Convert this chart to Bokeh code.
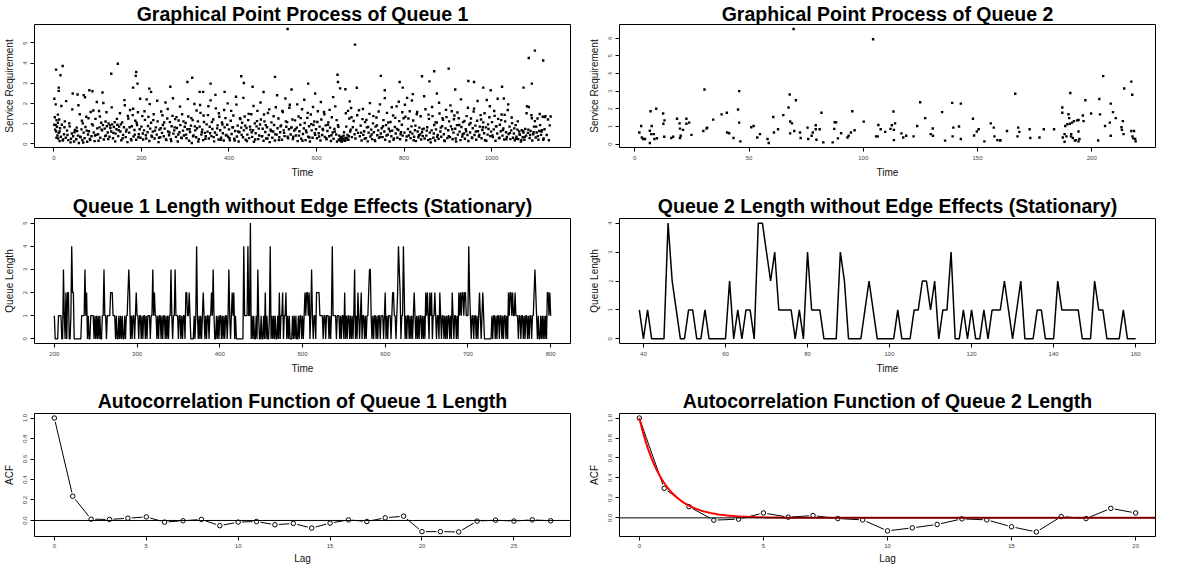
import numpy as np
from bokeh.plotting import figure
from bokeh.layouts import column, row
from bokeh.models import Range1d, FixedTicker, PrintfTickFormatter, Span
from bokeh.embed import file_html
from bokeh.resources import INLINE

FONT = "Liberation Sans"

# ---------------- Queue 1 point process (time, service requirement) ----------------
q1_times = [
    2, 3, 4, 5, 6, 7, 8, 9, 10, 11, 12, 13, 14, 16, 18, 21, 23, 25, 27, 30, 33, 36, 38, 41, 44, 46, 48,
    51, 53, 55, 57, 59, 61, 63, 65, 66, 68, 70, 72, 74, 76, 78, 80, 82, 84, 86, 89, 91, 93, 95, 97, 99,
    101, 103, 104, 106, 108, 110, 112, 114, 116, 118, 119, 121, 123, 125, 127, 129, 131, 133, 135, 137, 139, 141, 143, 145, 147, 149,
    151, 152, 154, 156, 158, 160, 162, 164, 166, 168, 170, 172, 174, 176, 178, 180, 182, 184, 186, 188, 190, 192, 194, 196, 198,
    200, 202, 204, 206, 208, 210, 212, 214, 216, 218, 220, 222, 224, 226, 228, 230, 233, 235, 237, 239, 241, 243, 245, 247, 249,
    251, 253, 255, 257, 259, 261, 263, 265, 267, 269, 271, 273, 275, 277, 279, 281, 283, 285, 287, 289, 291, 293, 295, 297, 299,
    301, 303, 305, 307, 309, 311, 313, 315, 317, 319, 321, 323, 325, 327, 329, 331, 333, 335, 337, 339, 341, 343, 345, 347, 349,
    351, 352, 354, 356, 358, 360, 362, 364, 366, 368, 370, 372, 374, 376, 378, 380, 382, 384, 386, 388, 390, 392, 394, 396, 398,
    400, 402, 404, 406, 408, 410, 412, 414, 416, 418, 420, 422, 424, 426, 428, 430, 432, 434, 436, 438, 440, 442, 444, 446, 448,
    451, 453, 455, 457, 459, 461, 463, 465, 467, 469, 471, 473, 475, 477, 479, 481, 483, 485, 487, 489, 491, 493, 495, 497, 499,
    501, 503, 505, 507, 509, 511, 513, 515, 517, 519, 521, 523, 525, 527, 529, 531, 533, 535, 537, 539, 541, 543, 545, 547, 549,
    551, 553, 555, 557, 559, 561, 563, 565, 567, 569, 571, 573, 575, 577, 579, 581, 583, 585, 587, 589, 591, 593, 595, 597, 599,
    601, 603, 605, 607, 609, 611, 613, 615, 617, 619, 621, 623, 625, 627, 629, 631, 633, 635, 637, 639, 641, 643, 645, 647, 649,
    651, 652, 654, 656, 657, 659, 661, 663, 665, 667, 669, 671, 673, 675, 677, 679, 681, 683, 685, 687, 689, 691, 693, 695, 697, 699,
    701, 703, 705, 707, 709, 711, 713, 715, 717, 719, 721, 723, 725, 727, 729, 731, 733, 735, 737, 739, 741, 743, 745, 747, 749,
    751, 753, 755, 757, 759, 761, 763, 765, 767, 769, 771, 773, 775, 777, 779, 781, 783, 785, 787, 789, 791, 793, 795, 797, 799,
    801, 803, 805, 807, 809, 811, 813, 815, 817, 819, 821, 823, 825, 827, 829, 831, 833, 835, 837, 839, 841, 843, 845, 847, 849,
    851, 853, 855, 857, 859, 861, 863, 865, 867, 869, 871, 873, 875, 877, 879, 881, 883, 885, 887, 889, 891, 893, 895, 897, 899,
    901, 903, 905, 907, 909, 911, 913, 915, 917, 919, 921, 923, 925, 927, 929, 931, 933, 935, 937, 939, 941, 943, 945, 947, 949,
    951, 953, 955, 957, 959, 961, 963, 965, 967, 969, 971, 973, 975, 977, 979, 981, 983, 985, 987, 989, 991, 993, 995, 997, 999,
    1001, 1003, 1005, 1007, 1009, 1011, 1013, 1015, 1017, 1019, 1021, 1023, 1025, 1027, 1029, 1031, 1033, 1035, 1037, 1039, 1041, 1043, 1045, 1047, 1049,
    1051, 1053, 1055, 1057, 1059, 1061, 1063, 1065, 1067, 1069, 1071, 1073, 1075, 1077, 1079, 1081, 1083, 1085, 1087, 1089, 1091, 1093, 1095, 1097, 1099,
    1101, 1103, 1105, 1107, 1109, 1111, 1113, 1115, 1117, 1119, 1121, 1123,
]
q1_service = [
    1.32, 0.71, 0.93, 0.62, 1.18, 0.85, 0.42, 1.05, 0.27, 0.55, 1.21, 0.14, 0.78, 0.36, 0.95, 0.22, 0.48, 1.12, 0.31, 0.66, 0.19, 0.87, 0.08, 0.52, 0.38, 0.12, 0.69,
    0.23, 0.64, 0.41, 0.05, 1.47, 0.33, 0.72, 0.18, 1.02, 0.56, 0.29, 0.84, 1.35, 0.11, 0.47, 0.63, 0.25, 1.58, 0.38, 0.92, 0.57, 0.14, 1.24, 0.45, 0.77,
    0.48, 1.63, 0.82, 0.31, 1.05, 0.67, 0.93, 0.22, 0.76, 1.11, 0.42, 0.88, 0.57, 1.01, 0.36, 0.79, 0.62, 0.97, 0.28, 0.84, 1.08, 0.51, 0.73, 0.95, 0.39, 0.86,
    1.52, 0.62, 0.18, 1.07, 0.45, 0.83, 1.92, 0.34, 0.71, 0.09, 1.26, 0.56, 1.68, 0.24, 0.88, 1.43, 0.37, 0.69, 1.15, 0.21, 0.94, 1.57, 0.48, 0.73, 0.31,
    0.86, 1.38, 0.22, 0.67, 1.19, 0.43, 2.21, 0.58, 1.34, 0.15, 0.76, 1.05, 0.36, 0.61, 1.47, 0.27, 0.82, 0.46, 1.12, 0.09, 0.71, 0.33, 1.61, 0.55, 0.94,
    0.38, 0.76, 2.05, 0.19, 1.26, 0.62, 0.43, 1.08, 0.24, 0.88, 1.39, 0.51, 0.67, 1.23, 0.35, 0.79, 0.12, 1.16, 0.58, 0.93, 0.31, 1.47, 0.66, 0.42, 0.85,
    1.04, 0.28, 0.73, 1.36, 0.16, 0.59, 0.91, 0.05, 1.18, 0.42, 1.98, 0.67, 0.33, 0.78, 1.12, 0.24, 0.86, 1.54, 0.46, 0.71, 0.19, 1.09, 0.55, 0.38, 0.97,
    0.61, 1.43, 0.27, 0.85, 2.16, 0.39, 0.74, 1.21, 0.13, 0.57, 1.76, 0.45, 0.92, 0.22, 1.35, 0.68, 0.31, 1.06, 0.53, 0.17, 0.82, 1.28, 0.44, 0.95, 0.36,
    0.72, 0.18, 1.15, 0.49, 0.83, 1.41, 0.26, 0.64, 2.34, 0.37, 0.91, 0.12, 0.58, 1.23, 0.81, 1.05, 0.33, 0.67, 1.36, 0.21, 0.79, 0.46, 1.18, 0.29, 0.86,
    1.47, 0.35, 0.68, 0.11, 1.02, 0.53, 0.87, 1.64, 0.24, 0.42, 0.96, 1.21, 0.38, 0.75, 0.16, 1.12, 0.59, 0.27, 0.83, 1.53, 0.44, 0.09, 0.71, 1.07, 0.31,
    0.62, 0.94, 0.17, 1.82, 0.46, 0.78, 1.26, 0.33, 0.58, 0.92, 0.21, 1.58, 0.67, 0.39, 2.25, 0.85, 1.08, 0.28, 0.73, 1.94, 0.47, 0.82, 1.21, 0.36, 0.66,
    1.17, 0.42, 0.81, 0.14, 1.36, 0.63, 0.95, 0.26, 1.72, 0.49, 0.77, 1.04, 0.19, 0.58, 1.29, 0.36, 0.88, 0.12, 1.46, 0.67, 0.31, 0.94, 1.11, 0.45, 0.73,
    0.28, 1.62, 0.53, 0.86, 0.17, 1.21, 0.44, 0.69, 1.58, 0.35, 0.92, 0.23, 0.64, 1.07, 0.38, 0.81, 0.15, 1.32, 0.57, 0.26, 0.74, 1.86, 0.47, 0.12, 0.93,
    0.22, 0.41, 0.18, 0.27, 0.13, 0.36, 0.24, 0.58, 0.16, 1.52, 0.31, 0.45, 0.21, 1.26, 0.62, 1.78, 0.34, 0.83, 1.14, 0.48, 0.27, 0.69, 1.42, 0.55, 1.67, 0.38,
    0.91, 0.17, 1.23, 0.45, 0.63, 1.08, 0.29, 0.82, 0.13, 0.56, 1.49, 0.37, 0.71, 0.24, 1.02, 0.58, 0.19, 0.86, 1.31, 0.43, 0.67, 0.31, 1.96, 0.52, 0.78,
    0.34, 1.18, 0.62, 0.21, 0.93, 1.54, 0.46, 0.75, 0.12, 1.09, 0.38, 0.66, 1.41, 0.27, 0.84, 0.52, 1.86, 0.31, 0.69, 1.13, 0.23, 0.58, 0.95, 0.41, 1.27,
    0.56, 1.35, 0.18, 2.28, 0.74, 0.42, 1.62, 0.29, 0.87, 0.51, 1.16, 0.36, 0.68, 0.14, 1.47, 0.62, 0.33, 0.81, 0.47, 0.22, 0.58, 0.39, 0.76, 0.27, 1.72,
    0.41, 0.83, 0.19, 1.24, 0.56, 0.08, 0.67, 1.38, 0.31, 0.94, 0.17, 0.72, 1.06, 0.45, 0.25, 1.51, 0.62, 0.36, 0.88, 1.19, 0.48, 0.14, 0.77, 1.33, 0.29,
    0.68, 1.12, 0.34, 0.87, 1.62, 0.23, 0.56, 1.41, 0.75, 0.12, 0.93, 0.46, 1.27, 0.61, 0.19, 0.84, 0.37, 1.08, 0.52, 0.26, 0.73, 1.38, 0.44, 0.15, 0.96,
    0.57, 1.26, 0.32, 0.78, 1.61, 0.44, 0.91, 0.21, 1.15, 0.63, 0.37, 0.86, 1.43, 0.28, 0.69, 1.07, 0.53, 0.18, 0.82, 2.18, 0.46, 0.74, 1.32, 0.39, 0.61,
    1.08, 0.34, 0.72, 1.39, 0.16, 0.87, 0.52, 1.24, 0.28, 0.95, 0.63, 1.46, 0.41, 0.77, 0.22, 1.12, 0.58, 0.35, 1.68, 0.49, 0.86, 0.24, 0.67, 1.03, 0.31,
    0.52, 0.18, 0.93, 0.36, 0.71, 0.24, 0.62, 0.45, 0.12, 0.68, 0.33, 0.57, 0.21, 0.74, 0.41, 1.87, 0.55, 1.83, 0.29, 0.64, 1.42, 0.17, 0.48, 0.86, 1.13,
    0.32, 0.57, 1.26, 0.21, 0.64, 0.93, 0.45, 0.68, 1.35, 0.27, 0.73, 1.38,
]
q1_more_times = [
    1, 6, 9, 13, 17, 20, 24, 28, 31, 35, 39, 42, 47,
    52, 56, 60, 64, 67, 71, 75, 79, 83, 87, 90, 94, 98,
    102, 105, 109, 113, 117, 120, 124, 128, 132, 136, 140, 144, 148,
    153, 157, 161, 165, 169, 173, 177, 181, 185, 189, 193, 197,
    203, 207, 211, 215, 219, 223, 227, 231, 236, 240, 244, 248,
    252, 256, 260, 264, 268, 272, 276, 280, 284, 288, 292, 296,
    302, 306, 310, 314, 318, 322, 326, 330, 334, 338, 342, 346,
    353, 357, 361, 365, 369, 373, 377, 381, 385, 389, 393, 397,
    401, 405, 409, 413, 417, 421, 425, 429, 433, 437, 441, 445, 449,
    452, 456, 460, 464, 468, 472, 476, 480, 484, 488, 492, 496,
    502, 506, 510, 514, 518, 522, 526, 530, 534, 538, 542, 546,
    552, 556, 560, 564, 568, 572, 576, 580, 584, 588, 592, 596,
    602, 606, 610, 614, 618, 622, 626, 630, 634, 638, 642, 646, 650,
    653, 655, 658, 660, 662, 664, 666, 668, 670, 672, 674, 676, 678, 680,
    702, 706, 710, 714, 718, 722, 726, 730, 734, 738, 742, 746,
    752, 756, 760, 764, 768, 772, 776, 780, 784, 788, 792, 796,
    802, 806, 810, 814, 818, 822, 826, 830, 834, 838, 842, 846,
    852, 856, 860, 864, 868, 872, 876, 880, 884, 888, 892, 896,
    902, 906, 910, 914, 918, 922, 926, 930, 934, 938, 942, 946,
    952, 956, 960, 964, 968, 972, 976, 980, 984, 988, 992, 996,
    1002, 1006, 1010, 1014, 1018, 1022, 1026, 1030, 1034, 1038, 1042, 1046,
    1052, 1056, 1060, 1064, 1068, 1072, 1076, 1080, 1084, 1088, 1092, 1096,
    1102, 1106, 1110, 1114, 1118, 1122, 1126, 1129, 1131, 1133, 1135,
]
q1_more_service = [
    0.95, 0.31, 1.45, 0.62, 1.88, 0.17, 0.83, 2.12, 0.44, 1.02, 0.26, 1.71, 0.58,
    0.81, 1.92, 0.36, 1.15, 0.07, 2.31, 0.66, 1.27, 0.19, 0.98, 1.66, 0.42, 2.08,
    0.16, 1.36, 0.71, 2.03, 0.39, 1.57, 0.24, 0.92, 1.81, 0.55, 0.13, 1.24, 0.68,
    0.97, 0.28, 2.17, 0.61, 1.39, 0.83, 0.18, 1.74, 0.46, 1.05, 0.33, 2.24,
    0.52, 1.62, 0.27, 0.89, 1.97, 0.41, 1.18, 0.66, 2.14, 0.31, 0.78, 1.42,
    1.06, 0.23, 1.73, 0.57, 0.14, 2.26, 0.82, 1.33, 0.47, 1.85, 0.29, 1.12,
    0.46, 2.22, 0.73, 1.28, 0.38, 0.87, 1.66, 0.12, 1.93, 0.58, 1.41, 0.26,
    1.87, 0.53, 1.09, 0.34, 2.43, 0.77, 1.52, 0.21, 0.96, 1.68, 0.43, 2.01,
    0.29, 1.64, 0.83, 0.17, 1.95, 0.62, 1.27, 0.45, 2.28, 0.91, 0.15, 1.49, 0.71,
    0.58, 1.88, 0.22, 1.13, 0.76, 2.05, 0.39, 1.46, 0.93, 0.27, 1.71, 0.64,
    1.37, 0.48, 2.41, 0.19, 0.88, 1.64, 0.55, 1.12, 0.36, 1.79, 0.81, 0.24,
    0.73, 1.96, 0.41, 1.28, 0.16, 2.19, 0.67, 1.54, 0.32, 0.98, 1.83, 0.53,
    1.09, 0.37, 2.08, 0.74, 1.47, 0.28, 0.95, 1.69, 0.43, 2.32, 0.61, 1.18, 0.85,
    0.19, 0.33, 0.12, 0.25, 0.41, 0.17, 0.29, 0.86, 0.22, 1.64, 0.38, 2.11, 0.71, 1.32,
    0.56, 1.73, 0.26, 1.19, 0.84, 2.02, 0.47, 1.38, 0.14, 0.92, 1.61, 0.35,
    0.88, 2.27, 0.42, 1.06, 0.63, 1.82, 0.21, 1.29, 0.74, 2.09, 0.48, 1.57,
    1.94, 0.37, 1.26, 0.59, 2.15, 0.18, 0.91, 1.58, 0.43, 1.37, 0.72, 2.36,
    0.66, 1.45, 0.24, 1.83, 0.52, 1.07, 0.36, 2.04, 0.81, 1.28, 0.17, 1.69,
    0.38, 1.91, 0.73, 1.22, 0.27, 1.56, 0.94, 2.21, 0.48, 1.14, 0.63, 1.79,
    1.04, 0.29, 1.75, 0.62, 2.13, 0.44, 1.21, 0.83, 1.52, 0.16, 0.97, 1.87,
    0.42, 1.63, 0.87, 2.24, 0.31, 1.18, 0.69, 1.44, 0.23, 1.96, 0.55, 1.31,
    0.77, 0.26, 1.12, 0.48, 0.19, 0.63, 0.35, 1.52, 0.71, 0.44, 1.27, 0.58,
    0.86, 0.39, 1.48, 0.62, 0.21, 1.33, 0.44, 1.21, 0.18, 0.92, 1.36,
]
q1_high_times = [5, 15, 20, 11, 11, 1, 4, 43, 54, 68, 81, 88, 111, 131, 146, 181, 188, 187, 191, 218,
                 222, 266, 305, 316, 333, 341, 358, 390, 428, 434, 454, 479, 505, 534, 543, 581, 597, 648, 649, 654,
                 666, 688, 692, 747, 756, 790, 797, 820, 841, 858, 869, 875, 902, 917, 947, 960, 981, 998, 1024, 1028,
                 1073, 1085, 1092, 1099, 1118]
q1_high_service = [3.68, 3.40, 3.86, 2.79, 2.63, 2.24, 1.96, 2.50, 2.45, 2.42, 2.66, 2.61, 2.55, 3.48, 3.97, 2.79, 3.56, 3.37, 2.99, 2.74,
                   2.58, 2.83, 3.07, 3.28, 2.58, 2.58, 2.99, 2.58, 3.35, 3.02, 2.83, 2.57, 3.32, 5.69, 2.70, 2.99, 2.50, 3.43, 3.07, 2.75,
                   2.71, 4.92, 2.78, 3.37, 2.66, 3.07, 2.79, 2.47, 3.35, 3.10, 3.60, 2.50, 3.73, 2.70, 3.12, 3.07, 2.79, 2.66, 2.83, 2.25,
                   2.79, 4.26, 2.99, 4.62, 4.13]

# ---------------- Queue 2 point process ----------------
q2_times = [
    2.0, 2.8, 3.1, 3.6, 4.5, 6.6, 6.6, 6.9, 7.4, 7.2, 8.3, 8.6, 9.4, 9.7, 12.4, 12.5, 13.0, 12.9, 16.0, 16.8,
    18.5, 19.6, 19.8, 19.8, 20.1, 21.1, 22.6, 22.6, 23.8, 24.8, 30.0, 30.5, 31.4, 31.7, 34.3, 38.0, 40.3, 40.4, 41.3, 43.2,
    45.2, 45.7, 45.7, 46.2, 51.0, 52.0, 53.6, 54.8, 58.1, 58.6, 60.6, 60.9, 62.7, 65.0, 67.3, 67.8, 68.0, 68.0, 68.8, 69.5,
    69.8, 70.5, 72.3, 72.6, 75.6, 75.9, 77.4, 77.9, 79.2, 79.2, 79.5, 80.9, 81.7, 82.5, 86.6, 87.3, 87.5, 88.1, 88.9, 90.3,
    93.1, 93.6, 94.6, 95.2, 96.2, 100.2, 104.3, 105.6, 106.3, 106.6, 107.6, 109.6, 111.9, 112.5, 113.2, 113.4, 113.4, 113.9, 116.7, 117.5,
    118.8, 122.0, 123.6, 124.9, 127.1, 129.5, 130.4, 130.5, 134.5, 135.8, 138.9, 139.1, 139.4, 141.9, 142.7, 142.7, 148.0, 148.5, 149.7, 150.5,
    153.0, 155.8, 157.1, 157.4, 158.7, 159.9, 160.0, 162.9, 166.5, 167.5, 167.8, 168.3, 172.8, 173.1, 177.1, 179.0, 183.5, 187.1, 187.1, 187.3,
    188.1, 188.1, 188.4, 188.9, 189.8, 189.3, 190.1, 190.4, 190.6, 190.9, 191.0, 191.4, 191.7, 192.2, 192.6, 193.0, 193.6, 194.2, 194.2, 194.2,
    194.6, 196.1, 196.4, 197.2, 199.7, 202.8, 203.3, 203.6, 205.0, 205.8, 207.9, 208.3, 208.3, 209.3, 210.5, 213.0, 213.2, 213.6, 213.9, 214.2,
    217.3, 217.7, 217.3, 217.8, 218.2, 218.5, 219.0, 219.2,
]
q2_service = [
    0.65, 1.02, 0.37, 0.28, 0.28, 0.06, 0.75, 1.86, 1.02, 0.56, 0.56, 0.28, 2.00, 0.33, 1.73, 1.15, 1.34, 0.41, 0.34, 0.41,
    1.43, 1.17, 0.87, 0.34, 0.47, 0.80, 1.43, 1.15, 1.21, 0.52, 0.74, 3.09, 0.88, 0.93, 1.38, 1.68, 1.77, 0.65, 0.61, 0.34,
    1.96, 3.00, 1.21, 0.15, 0.95, 1.02, 0.37, 0.56, 0.28, 0.06, 1.53, 0.65, 0.84, 1.64, 2.07, 2.81, 1.28, 0.60, 1.17, 6.52,
    0.74, 2.48, 0.65, 0.34, 0.93, 0.28, 0.47, 0.65, 1.06, 0.84, 0.24, 0.84, 1.77, 0.09, 0.09, 0.86, 1.23, 1.23, 0.32, 0.61,
    0.37, 0.47, 0.65, 1.86, 0.78, 1.27, 5.94, 0.43, 0.43, 1.08, 0.84, 0.69, 0.86, 1.06, 1.84, 0.22, 0.80, 1.17, 0.60, 0.37,
    0.47, 0.43, 1.02, 2.37, 1.47, 0.56, 0.88, 0.47, 1.81, 0.19, 2.33, 0.43, 0.93, 0.99, 2.29, 0.28, 1.43, 0.48, 0.71, 0.84,
    0.15, 1.17, 0.93, 0.43, 0.22, 0.19, 0.22, 0.74, 2.85, 0.43, 0.93, 0.69, 0.84, 0.34, 0.37, 0.84, 0.84, 2.07, 1.77, 0.37,
    0.56, 0.13, 1.02, 0.43, 1.69, 1.12, 1.47, 1.15, 2.89, 0.43, 0.56, 1.21, 0.34, 1.30, 0.19, 0.22, 1.34, 0.15, 0.71, 1.36,
    0.28, 1.62, 1.30, 2.48, 1.73, 0.20, 2.55, 1.68, 3.85, 1.02, 1.21, 0.47, 2.29, 1.81, 1.47, 0.95, 0.80, 1.30, 0.56, 3.15,
    3.54, 2.79, 0.74, 0.43, 0.32, 0.74, 0.28, 0.15,
]

# ---------------- Queue lengths (one value per unit of time) ----------------
q1_len_start, q1_len_end = 200, 800
q1_length = [
    1, 0, 0, 0, 0, 1, 1, 1, 1, 0,  0, 3, 1, 0, 2, 0, 2, 2, 0, 0,
    1, 4, 2, 2, 0, 0, 0, 0, 0, 0,  0, 0, 0, 1, 1, 1, 1, 3, 1, 2,
    0, 1, 0, 0, 1, 1, 1, 1, 0, 1,  0, 1, 0, 1, 0, 1, 0, 0, 1, 1,
    3, 1, 1, 0, 1, 1, 1, 1, 2, 2,  2, 1, 1, 1, 0, 1, 0, 0, 1, 0,
    1, 0, 1, 0, 0, 1, 0, 1, 1, 2,  3, 2, 0, 1, 0, 1, 1, 0, 1, 2,
    1, 1, 0, 1, 1, 0, 1, 0, 1, 1,  0, 1, 0, 1, 1, 1, 0, 1, 1, 3,
    1, 2, 1, 1, 0, 1, 0, 1, 1, 0,  1, 0, 1, 1, 0, 1, 0, 1, 0, 1,
    1, 3, 1, 0, 1, 1, 3, 1, 1, 1,  0, 1, 1, 0, 1, 0, 1, 1, 0, 2,
    2, 1, 1, 2, 1, 0, 0, 0, 0, 1,  0, 1, 4, 1, 0, 1, 0, 1, 0, 1,
    2, 1, 0, 1, 0, 1, 1, 0, 1, 1,  2, 1, 3, 1, 0, 0, 1, 0, 1, 0,
    1, 1, 0, 1, 0, 1, 0, 1, 1, 0,  1, 3, 1, 0, 1, 2, 1, 2, 0, 1,
    0, 0, 0, 0, 0, 0, 0, 0, 0, 4,  1, 1, 1, 1, 4, 1, 1, 5, 0, 1,
    0, 1, 0, 0, 1, 0, 3, 1, 0, 0,  1, 0, 0, 1, 0, 2, 0, 1, 0, 0,
    1, 4, 0, 1, 0, 1, 0, 1, 0, 0,  1, 0, 2, 0, 1, 1, 2, 0, 1, 1,
    2, 0, 1, 0, 1, 0, 0, 0, 1, 0,  1, 0, 1, 0, 0, 1, 0, 1, 1, 0,
    1, 0, 1, 2, 1, 2, 2, 1, 2, 0,  1, 3, 1, 0, 1, 1, 0, 2, 2, 2,
    2, 1, 1, 1, 1, 0, 1, 1, 0, 1,  1, 1, 0, 1, 0, 1, 4, 1, 1, 1,
    1, 0, 1, 1, 1, 0, 1, 0, 1, 1,  0, 2, 0, 1, 0, 1, 1, 0, 1, 0,
    1, 0, 1, 3, 0, 1, 0, 2, 1, 0,  1, 2, 0, 1, 1, 0, 1, 0, 1, 1,
    2, 3, 3, 1, 0, 1, 0, 1, 1, 0,  1, 0, 1, 1, 0, 1, 1, 1, 0, 1,
    2, 0, 1, 0, 1, 1, 1, 0, 1, 2,  2, 1, 1, 0, 1, 2, 4, 3, 2, 0,
    1, 1, 4, 2, 0, 1, 0, 1, 1, 0,  1, 0, 1, 0, 1, 2, 1, 0, 1, 0,
    1, 0, 1, 1, 0, 1, 0, 1, 0, 2,  1, 2, 1, 0, 2, 1, 2, 0, 1, 1,
    2, 1, 0, 1, 1, 0, 2, 1, 0, 1,  1, 0, 1, 0, 1, 0, 1, 1, 0, 1,
    0, 2, 1, 0, 1, 1, 0, 1, 0, 2,  1, 2, 1, 2, 2, 1, 2, 2, 1, 1,
    1, 4, 2, 1, 0, 1, 1, 0, 1, 1,  0, 1, 0, 1, 2, 1, 0, 1, 2, 1,
    0, 0, 0, 0, 0, 0, 0, 0, 0, 1,  0, 1, 1, 0, 1, 0, 1, 1, 0, 1,
    1, 0, 1, 0, 1, 1, 0, 1, 0, 2,  1, 2, 2, 1, 2, 1, 1, 2, 1, 1,
    1, 0, 1, 1, 0, 1, 1, 0, 1, 0,  1, 1, 0, 1, 0, 1, 1, 0, 1, 1,
    2, 3, 2, 1, 0, 1, 0, 0, 1, 0,  1, 0, 1, 0, 1, 0, 2, 2, 1, 2,
    1,
]
q2_len_start, q2_len_end = 39, 160
q2_length = [
    1, 0, 1, 0, 0, 0, 0, 4, 2, 1,
    0, 0, 1, 1, 0, 0, 1, 0, 0, 0,
    0, 0, 2, 0, 1, 0, 1, 1, 0, 4,
    4, 3, 2, 3, 1, 1, 1, 1, 0, 1,
    0, 3, 1, 1, 1, 0, 0, 0, 0, 3,
    2, 0, 0, 0, 0, 1, 2, 1, 0, 0,
    0, 0, 0, 1, 0, 0, 0, 1, 1, 2,
    2, 1, 2, 0, 1, 1, 3, 0, 0, 1,
    0, 1, 0, 0, 1, 0, 1, 1, 1, 2,
    1, 0, 1, 2, 0, 0, 0, 1, 1, 0,
    0, 0, 2, 1, 1, 1, 1, 1, 0, 0,
    0, 2, 1, 1, 0, 0, 0, 0, 1, 0,
    0, 0,
]

# ---------------- Autocorrelation functions ----------------
q1_acf = [1.0, 0.237, 0.013, 0.010, 0.022, 0.035, -0.016, -0.003, 0.010, -0.051,
          -0.016, -0.010, -0.042, -0.029, -0.074, -0.026, 0.006, -0.010, 0.026, 0.042,
          -0.109, -0.109, -0.112, -0.006, 0.003, -0.006, 0.006, -0.003]
q2_acf = [1.0, 0.296, 0.112, -0.023, -0.013, 0.049, 0.007, 0.023, -0.007, -0.020,
          -0.130, -0.100, -0.066, -0.010, -0.020, -0.089, -0.141, 0.013, -0.007, 0.095, 0.049]
q2_fit_rate = 1.05   # fitted exponential decay exp(-rate * lag)

# tick positions
q1_pp_xticks = [0, 200, 400, 600, 800, 1000]
q1_pp_yticks = [0, 1, 2, 3, 4, 5]
q2_pp_xticks = [0, 50, 100, 150, 200]
q2_pp_yticks = [0, 1, 2, 3, 4, 5, 6]
q1_len_xticks = [200, 300, 400, 500, 600, 700, 800]
q1_len_yticks = [0, 1, 2, 3, 4, 5]
q2_len_xticks = [40, 60, 80, 100, 120, 140, 160]
q2_len_yticks = [0, 1, 2, 3, 4]
q1_acf_xticks = [0, 5, 10, 15, 20, 25]
q2_acf_xticks = [0, 5, 10, 15, 20]
acf_yticks = [0.0, 0.2, 0.4, 0.6, 0.8, 1.0]


def r_range(vals):
    lo, hi = float(min(vals)), float(max(vals))
    e = 0.04 * (hi - lo)
    return Range1d(lo - e, hi + e)


def make_fig(w, h, xr, yr, title, xlabel, ylabel, xticks, yticks, bl, bt, bb, br,
             yfmt=None, xl_stand=4, xa_stand=4, t_stand=0):
    p = figure(width=w, height=h, x_range=xr, y_range=yr, output_backend="svg",
               toolbar_location=None, min_border_left=bl, min_border_top=bt,
               min_border_bottom=bb, min_border_right=br)
    p.title.text = title
    p.title.align = "center"
    p.title.text_font = FONT
    p.title.text_font_size = "19.5px"
    p.title.text_font_style = "bold"
    p.title.text_color = "black"
    p.title.standoff = t_stand
    p.outline_line_color = "black"
    p.outline_line_width = 1
    p.outline_line_alpha = 1.0
    p.xgrid.visible = False
    p.ygrid.visible = False
    p.background_fill_color = "white"
    p.border_fill_color = "white"
    p.xaxis.axis_label = xlabel
    p.yaxis.axis_label = ylabel
    p.xaxis.ticker = FixedTicker(ticks=xticks)
    p.yaxis.ticker = FixedTicker(ticks=yticks)
    if yfmt:
        p.yaxis.formatter = PrintfTickFormatter(format=yfmt)
    for ax in (p.xaxis[0], p.yaxis[0]):
        ax.axis_line_color = None
        ax.major_tick_in = 0
        ax.major_tick_out = 4
        ax.major_tick_line_color = "black"
        ax.minor_tick_line_color = None
        ax.major_label_text_font = FONT
        ax.major_label_text_font_size = "6px"
        ax.major_label_text_color = "#444444"
        ax.axis_label_text_font = FONT
        ax.axis_label_text_font_size = "10px"
        ax.axis_label_text_font_style = "normal"
        ax.axis_label_text_color = "#111111"
    p.xaxis.major_label_standoff = xl_stand
    p.xaxis.axis_label_standoff = xa_stand
    p.yaxis.major_label_standoff = 3
    p.yaxis.axis_label_standoff = 6
    p.yaxis.major_label_orientation = "vertical"
    return p


LW, RW = 585, 585
H1, H2, H3 = 184, 194, 188

# row 1: point processes
n1 = min(len(q1_times), len(q1_service))
n1b = min(len(q1_more_times), len(q1_more_service))
n1h = min(len(q1_high_times), len(q1_high_service))
all_q1_t = q1_times[:n1] + q1_more_times[:n1b] + q1_high_times[:n1h]
all_q1_v = q1_service[:n1] + q1_more_service[:n1b] + q1_high_service[:n1h]
p1 = make_fig(LW, H1, r_range(all_q1_t), r_range(all_q1_v), "Graphical Point Process of Queue 1",
              "Time", "Service Requirement", q1_pp_xticks, q1_pp_yticks, 32, 22, 37, 15)
p1.scatter(all_q1_t, all_q1_v, marker="square", size=2.4, color="black", line_width=0)

n2 = min(len(q2_times), len(q2_service))
p2 = make_fig(RW, H1, r_range(q2_times[:n2]), r_range(q2_service[:n2]), "Graphical Point Process of Queue 2",
              "Time", "Service Requirement", q2_pp_xticks, q2_pp_yticks, 33, 22, 37, 15)
p2.scatter(q2_times[:n2], q2_service[:n2], marker="square", size=2.4, color="black", line_width=0)

# row 2: queue lengths
q1_len_t = list(range(q1_len_start, q1_len_end + 1))
q2_len_t = list(range(q2_len_start, q2_len_end + 1))
p3 = make_fig(LW, H2, r_range(q1_len_t), r_range(q1_length), "Queue 1 Length without Edge Effects (Stationary)",
              "Time", "Queue Length", q1_len_xticks, q1_len_yticks, 32, 34, 35, 15, t_stand=3)
p3.line(q1_len_t, q1_length[:len(q1_len_t)], line_color="black", line_width=1.3)

p4 = make_fig(RW, H2, r_range(q2_len_t), r_range(q2_length), "Queue 2 Length without Edge Effects (Stationary)",
              "Time", "Queue Length", q2_len_xticks, q2_len_yticks, 33, 34, 35, 15, t_stand=3)
p4.line(q2_len_t, q2_length[:len(q2_len_t)], line_color="black", line_width=1.5)

# row 3: autocorrelation
lags1 = list(range(len(q1_acf)))
lags2 = list(range(len(q2_acf)))


def acf_plot(p, lags, acf):
    p.line(lags, acf, line_color="black", line_width=1)
    p.scatter(lags, acf, marker="circle", size=8, fill_color="white", line_color=None)
    p.add_layout(Span(location=0, dimension="width", line_color="black", line_width=1))
    p.scatter(lags, acf, marker="circle", size=4.5, fill_color=None, line_color="black", line_width=1)


p5 = make_fig(LW, H3, r_range(lags1), r_range(q1_acf), "Autocorrelation Function of Queue 1 Length",
              "Lag", "ACF", q1_acf_xticks, acf_yticks, 32, 35, 28, 15, yfmt="%.1f",
              xl_stand=3, xa_stand=2, t_stand=3)
acf_plot(p5, lags1, q1_acf)

xr6 = r_range(lags2)
p6 = make_fig(RW, H3, xr6, r_range(q2_acf), "Autocorrelation Function of Queue 2 Length",
              "Lag", "ACF", q2_acf_xticks, acf_yticks, 33, 35, 28, 15, yfmt="%.1f",
              xl_stand=3, xa_stand=2, t_stand=3)
acf_plot(p6, lags2, q2_acf)
fit_x = np.linspace(0, xr6.end, 300)
p6.line(fit_x, np.exp(-q2_fit_rate * fit_x), line_color="red", line_width=2)

layout = column(row(p1, p2), row(p3, p4), row(p5, p6))
open("out.html", "w").write(file_html(layout, INLINE))
